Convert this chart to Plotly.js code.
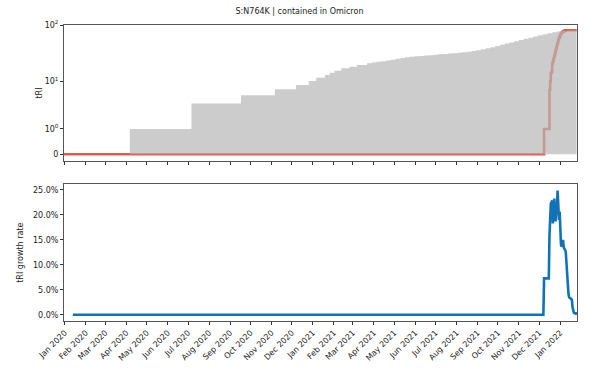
<!DOCTYPE html>
<html>
<head>
<meta charset="utf-8">
<script src="https://cdn.plot.ly/plotly-3.0.1.min.js"></script>
<style>html,body{margin:0;padding:0;background:#fff;}#chart{width:599px;height:379px;}</style>
</head>
<body>
<div id="chart"></div>
<script>
// ---- data ----
const grayDates = ['2019-12-31','2020-04-06','2020-07-06','2020-09-17','2020-11-06','2020-12-07','2020-12-26',
  '2021-01-06','2021-01-19','2021-01-26','2021-02-02','2021-02-12','2021-02-24','2021-03-07','2021-03-22',
  '2021-03-29','2021-04-05','2021-04-12','2021-04-19','2021-04-26','2021-05-03','2021-05-10','2021-05-17',
  '2021-05-24','2021-05-31','2021-06-07','2021-06-14','2021-06-21','2021-06-28','2021-07-05','2021-07-12',
  '2021-07-19','2021-07-26','2021-08-02','2021-08-09','2021-08-16','2021-08-23','2021-08-30','2021-09-06',
  '2021-09-13','2021-09-20','2021-09-27','2021-10-04','2021-10-11','2021-10-18','2021-10-25','2021-11-01',
  '2021-11-08','2021-11-15','2021-11-22','2021-11-29','2021-12-06','2021-12-13','2021-12-20','2021-12-27',
  '2022-01-03','2022-01-10','2022-01-25'];
const grayValues = [0,1,3.8,5.5,7.1,8.55,10.1,
  11.6,13.0,14.35,15.6,17.2,18.4,19.7,21.2,
  21.8,22.5,23.1,23.8,24.6,25.5,26.4,27.0,
  27.6,28.2,28.6,29.0,29.5,30.0,30.5,31.0,
  31.5,32.0,32.6,33.2,34.0,34.8,36.0,37.5,
  39.0,40.8,42.8,45.0,47.2,49.5,52.0,54.6,
  57.2,60.0,63.0,66.0,69.0,72.0,75.0,77.0,
  79.0,80.0,80.5];

const redDates = ['2019-12-31','2021-12-08','2021-12-16','2021-12-17','2021-12-18','2021-12-19','2021-12-20',
  '2021-12-21','2021-12-22','2021-12-23','2021-12-24','2021-12-25','2021-12-26','2021-12-27','2021-12-28',
  '2021-12-29','2021-12-30','2021-12-31','2022-01-01','2022-01-02','2022-01-03','2022-01-04','2022-01-05',
  '2022-01-06','2022-01-07','2022-01-08','2022-01-09','2022-01-10','2022-01-25'];
const redValues = [0,1,6.9,10,14,15,21,
  23,26,29,32,36,40,45,50,
  55,60,64,68,72,73,75,77,
  78,79,80,80.5,81,81];

const growthDates = ['2020-01-13','2021-12-07','2021-12-08','2021-12-15','2021-12-16','2021-12-17','2021-12-18',
  '2021-12-19','2021-12-20','2021-12-21','2021-12-22','2021-12-23','2021-12-24','2021-12-25','2021-12-26',
  '2021-12-27','2021-12-28','2021-12-29','2021-12-30','2021-12-31','2022-01-01','2022-01-02','2022-01-03',
  '2022-01-04','2022-01-05','2022-01-06','2022-01-07','2022-01-08','2022-01-09','2022-01-10','2022-01-11',
  '2022-01-12','2022-01-13','2022-01-14','2022-01-15','2022-01-16','2022-01-17','2022-01-18','2022-01-19',
  '2022-01-20','2022-01-21','2022-01-22','2022-01-23','2022-01-24','2022-01-25'];
const growthValues = [0,0,7.3,7.3,16,21.5,22.3,
  22.5,22.9,18.3,20.5,23.3,20,18.7,21,
  22,24.9,21,19,20.7,17,14,13.7,
  14.5,15,13.5,13,13,12.6,10,7.5,
  5.5,4.2,3.5,3.3,3.3,3.2,3.0,1.5,
  0.7,0.4,0.3,0.3,0.3,0];

const topTickValues = [0,1,10,100];
const topTickLabels = ['0','10<sup>0</sup>','10<sup>1</sup>','10<sup>2</sup>'];
const bottomTickValues = [0,5,10,15,20,25];
const bottomTickLabels = ['0.0%','5.0%','10.0%','15.0%','20.0%','25.0%'];
const titleText = 'S:N764K | contained in Omicron';

// custom compressive scale matching the reference's y spacing
const C = 0.57;
const scl = v => Math.log10(1 + v / C);

const font = {family: 'DejaVu Sans, sans-serif', size: 8, color: '#222'};

const traces = [
  {x: redDates, y: redValues.map(scl), type: 'scatter', mode: 'lines',
   line: {color: 'rgb(226,88,74)', width: 2.6, shape: 'hv'}, xaxis: 'x2', yaxis: 'y', hoverinfo: 'skip'},
  {x: grayDates, y: grayValues.map(scl), type: 'scatter', mode: 'lines', fill: 'tozeroy',
   fillcolor: 'rgba(182,182,182,0.7)', line: {width: 0, shape: 'hv', color: 'rgba(0,0,0,0)'},
   xaxis: 'x2', yaxis: 'y', hoverinfo: 'skip'},
  {x: growthDates, y: growthValues, type: 'scatter', mode: 'lines',
   line: {color: '#1172b8', width: 2.6}, xaxis: 'x', yaxis: 'y2', hoverinfo: 'skip'}
];

const xcommon = {
  type: 'date', range: ['2019-12-31', '2022-01-25 14:00'], tick0: '2020-01-01', dtick: 'M1',
  ticks: 'outside', ticklen: 3, tickcolor: '#333', showline: true, mirror: true,
  linecolor: '#555', linewidth: 1, showgrid: false, zeroline: false, tickfont: font
};

const layout = {
  width: 599, height: 379, showlegend: false,
  paper_bgcolor: '#fff', plot_bgcolor: '#fff', font: font,
  margin: {l: 64, r: 22, t: 25, b: 58},
  title: {text: titleText, font: {family: font.family, size: 8, color: '#222'},
          x: 0.5, xref: 'container', xanchor: 'center', y: 0.971, yref: 'container', yanchor: 'middle'},
  xaxis: Object.assign({}, xcommon, {anchor: 'y2', tickformat: '%b %Y', tickangle: -45}),
  xaxis2: Object.assign({}, xcommon, {anchor: 'y', matches: 'x', showticklabels: false}),
  yaxis: {domain: [0.5405, 1], anchor: 'x2', range: [-0.1164, scl(100)],
    tickvals: topTickValues.map(scl), ticktext: topTickLabels,
    ticks: 'outside', ticklen: 3, tickcolor: '#333', showline: true, mirror: true,
    linecolor: '#555', linewidth: 1, showgrid: false, zeroline: false, tickfont: font,
    title: {text: 'tRI', font: font, standoff: 0}},
  yaxis2: {domain: [0, 0.4618], anchor: 'x', range: [-1.24, 26.14],
    tickvals: bottomTickValues, ticktext: bottomTickLabels,
    ticks: 'outside', ticklen: 3, tickcolor: '#333', showline: true, mirror: true,
    linecolor: '#555', linewidth: 1, showgrid: false, zeroline: false, tickfont: font,
    title: {text: 'tRI growth rate', font: font, standoff: 8}}
};

Plotly.newPlot('chart', traces, layout, {staticPlot: true, displayModeBar: false});
</script>
</body>
</html>
